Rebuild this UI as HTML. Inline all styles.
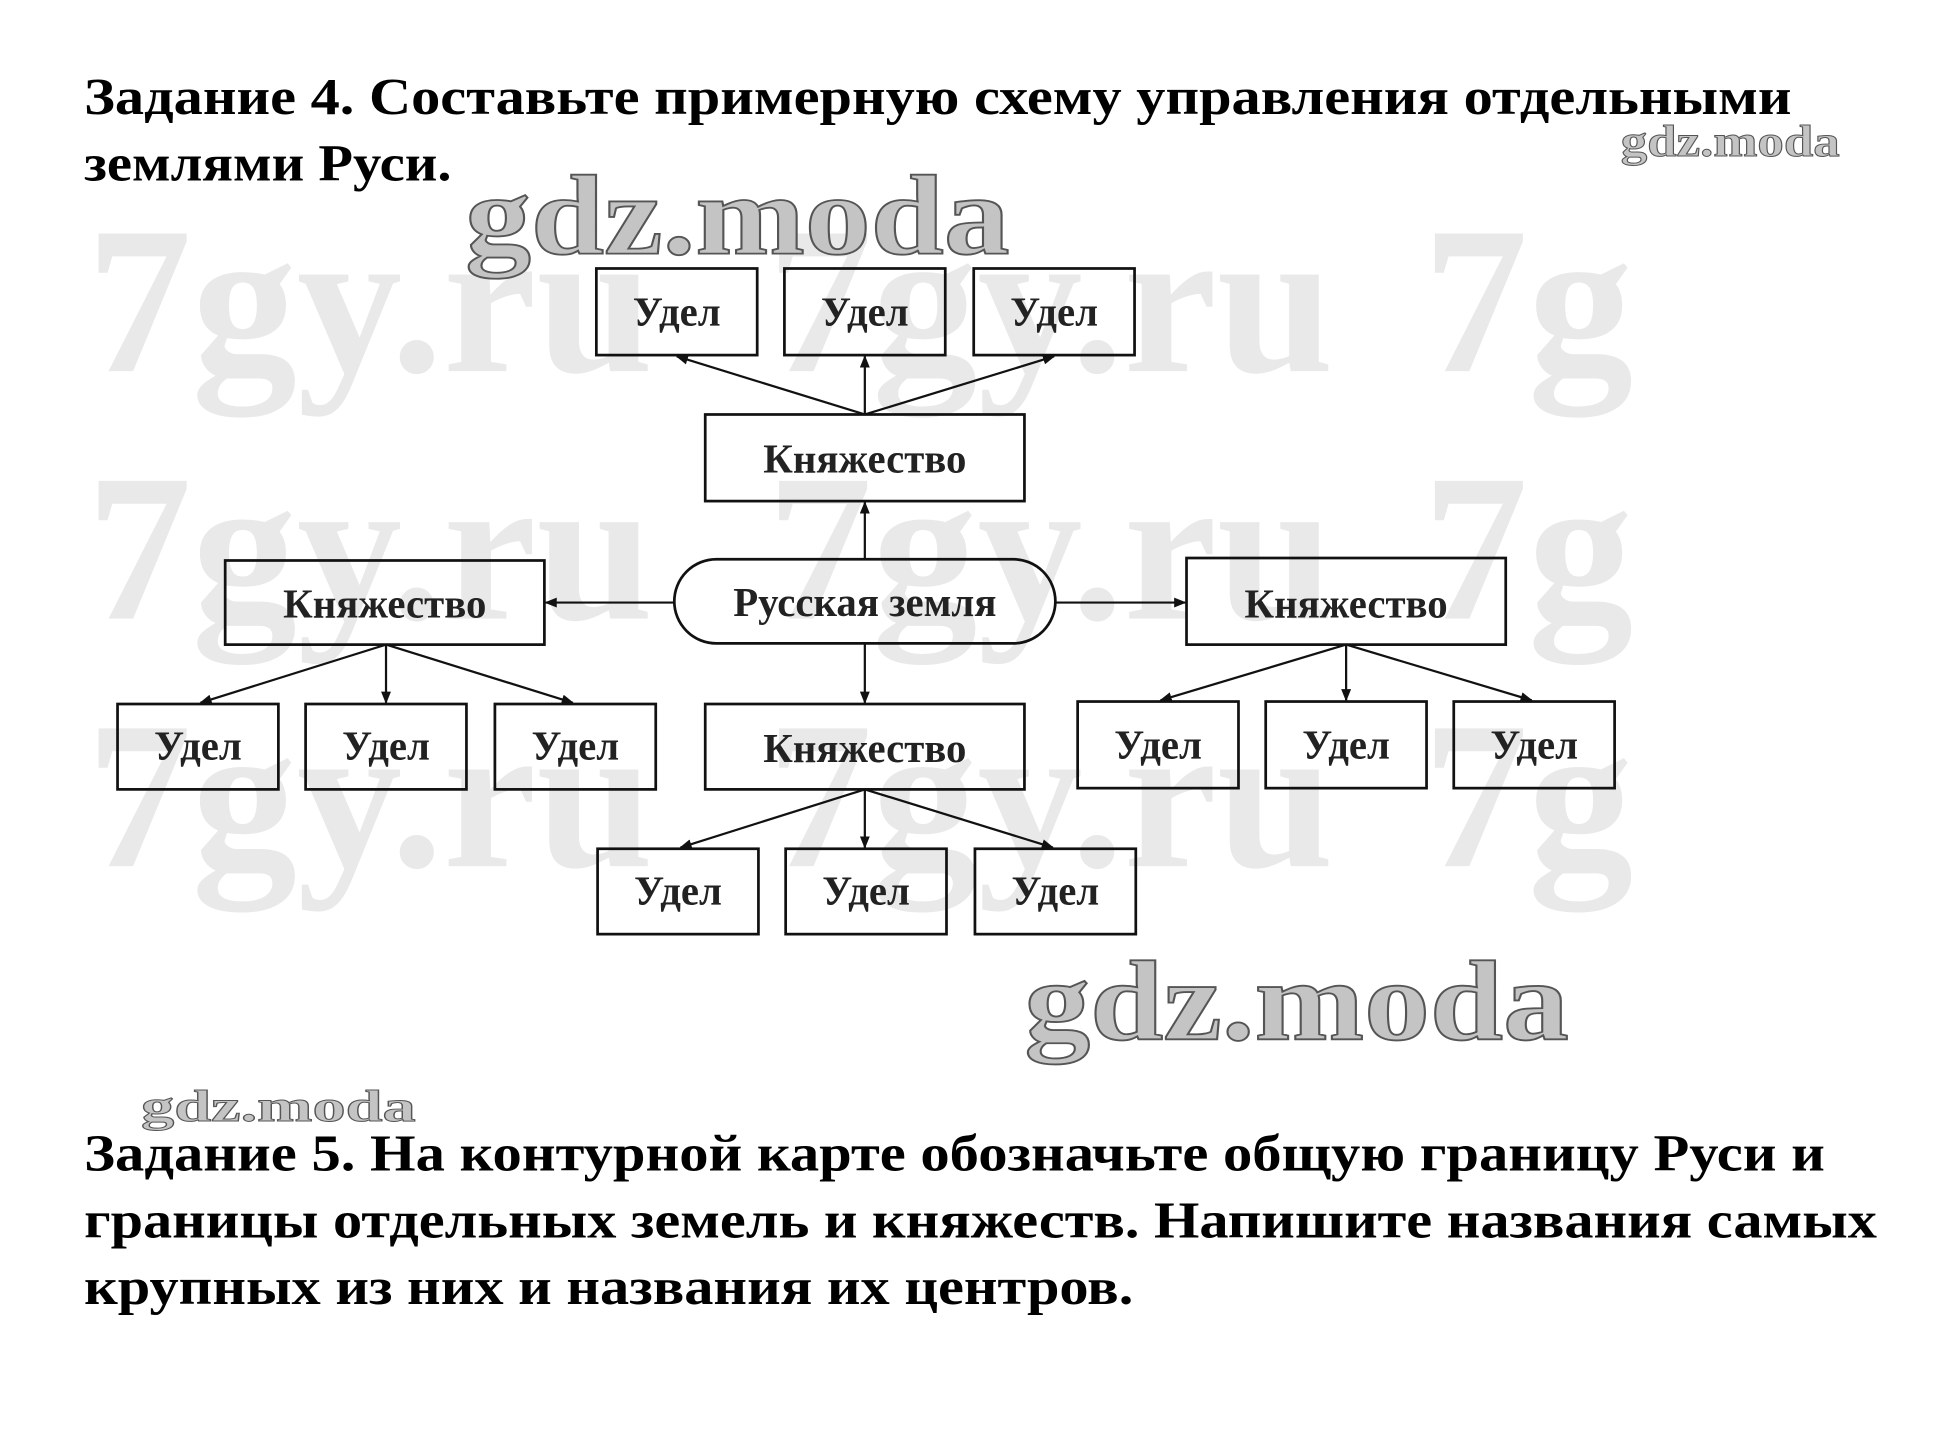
<!DOCTYPE html>
<html><head><meta charset="utf-8"><style>html,body{margin:0;padding:0;background:#fff;}svg{display:block}</style></head>
<body>
<svg width="1940" height="1434" viewBox="0 0 1568 1159" preserveAspectRatio="none" xmlns="http://www.w3.org/2000/svg" font-family="Liberation Serif, serif">
<defs><marker id="a" markerWidth="10" markerHeight="8" refX="9" refY="4" orient="auto" markerUnits="userSpaceOnUse"><path d="M0,0 L10,4 L0,8 z" fill="#111"/></marker></defs>
<g fill="#e9e9e9" font-size="170" font-weight="bold">
<text x="70" y="300">7gy.ru</text><text x="620" y="300">7gy.ru</text><text x="1150" y="300">7g</text>
<text x="70" y="500">7gy.ru</text><text x="620" y="500">7gy.ru</text><text x="1150" y="500">7g</text>
<text x="70" y="700">7gy.ru</text><text x="620" y="700">7gy.ru</text><text x="1150" y="700">7g</text>
</g>
<rect x="1345" y="150" width="223" height="620" fill="#fff"/>
<g font-weight="bold" fill="#000" font-size="42">
<text x="68" y="92" textLength="1380" lengthAdjust="spacingAndGlyphs">Задание 4. Составьте примерную схему управления отдельными</text>
<text x="68" y="146" textLength="297" lengthAdjust="spacingAndGlyphs">землями Руси.</text>
<text x="68" y="946" textLength="1407" lengthAdjust="spacingAndGlyphs">Задание 5. На контурной карте обозначьте общую границу Руси и</text>
<text x="68" y="1000" textLength="1449" lengthAdjust="spacingAndGlyphs">границы отдельных земель и княжеств. Напишите названия самых</text>
<text x="68" y="1054" textLength="848" lengthAdjust="spacingAndGlyphs">крупных из них и названия их центров.</text>
</g>
<g font-weight="bold" fill="#c4c4c4" stroke="#555" stroke-width="1.5">
<text x="376" y="205" font-size="92" textLength="440" lengthAdjust="spacingAndGlyphs">gdz.moda</text>
<text x="828" y="840" font-size="92" textLength="440" lengthAdjust="spacingAndGlyphs">gdz.moda</text>
<text x="1310" y="126" font-size="36" stroke-width="0.8" textLength="177" lengthAdjust="spacingAndGlyphs">gdz.moda</text>
<text x="114" y="906" font-size="36" stroke-width="0.8" textLength="222" lengthAdjust="spacingAndGlyphs">gdz.moda</text>
</g>
<g fill="none" stroke="#111" stroke-width="2.2">
<rect x="482" y="217" width="130" height="70"/><rect x="634" y="217" width="130" height="70"/><rect x="787" y="217" width="130" height="70"/>
<rect x="570" y="335" width="258" height="70"/>
<rect x="182" y="453" width="258" height="68"/>
<rect x="545" y="452" width="308" height="68" rx="34"/>
<rect x="959" y="451" width="258" height="70"/>
<rect x="95" y="569" width="130" height="69"/><rect x="247" y="569" width="130" height="69"/><rect x="400" y="569" width="130" height="69"/>
<rect x="570" y="569" width="258" height="69"/>
<rect x="871" y="567" width="130" height="70"/><rect x="1023" y="567" width="130" height="70"/><rect x="1175" y="567" width="130" height="70"/>
<rect x="483" y="686" width="130" height="69"/><rect x="635" y="686" width="130" height="69"/><rect x="788" y="686" width="130" height="69"/>
</g>
<g stroke="#111" stroke-width="1.8" marker-end="url(#a)">
<line x1="699" y1="335" x2="547" y2="288"/><line x1="699" y1="335" x2="699" y2="288"/><line x1="699" y1="335" x2="852" y2="288"/>
<line x1="699" y1="452" x2="699" y2="406"/>
<line x1="545" y1="487" x2="441" y2="487"/>
<line x1="853" y1="487" x2="958" y2="487"/>
<line x1="699" y1="520" x2="699" y2="568"/>
<line x1="312" y1="521" x2="162" y2="568"/><line x1="312" y1="521" x2="312" y2="568"/><line x1="312" y1="521" x2="463" y2="568"/>
<line x1="1088" y1="521" x2="938" y2="566"/><line x1="1088" y1="521" x2="1088" y2="566"/><line x1="1088" y1="521" x2="1238" y2="566"/>
<line x1="699" y1="638" x2="550" y2="685"/><line x1="699" y1="638" x2="699" y2="685"/><line x1="699" y1="638" x2="851" y2="685"/>
</g>
<g font-weight="bold" font-size="33" fill="#222" text-anchor="middle">
<text x="547" y="263">Удел</text><text x="699" y="263">Удел</text><text x="852" y="263">Удел</text>
<text x="699" y="382">Княжество</text>
<text x="311" y="499">Княжество</text>
<text x="699" y="498">Русская земля</text>
<text x="1088" y="499">Княжество</text>
<text x="160" y="614">Удел</text><text x="312" y="614">Удел</text><text x="465" y="614">Удел</text>
<text x="699" y="616">Княжество</text>
<text x="936" y="613">Удел</text><text x="1088" y="613">Удел</text><text x="1240" y="613">Удел</text>
<text x="548" y="731">Удел</text><text x="700" y="731">Удел</text><text x="853" y="731">Удел</text>
</g>
</svg>
</body></html>
